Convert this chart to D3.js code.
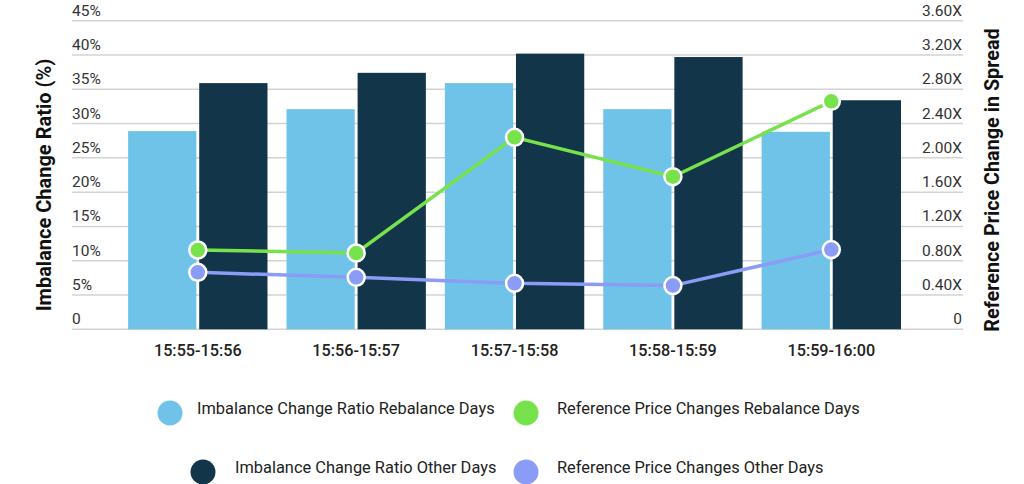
<!DOCTYPE html>
<html>
<head>
<meta charset="utf-8">
<script src="https://d3js.org/d3.v7.min.js"></script>
<style>
  body { margin: 0; background: #fff; }
  svg text { font-family: Roboto, "Noto Sans", sans-serif; }
</style>
</head>
<body>
<div id="chart"></div>
<script>
// data
var periods = ["15:55-15:56", "15:56-15:57", "15:57-15:58", "15:58-15:59", "15:59-16:00"];
var ratioRebalance = [28.9, 32.1, 35.9, 32.1, 28.8];
var ratioOther = [35.9, 37.4, 40.2, 39.7, 33.4];
var priceRebalance = [0.925, 0.89, 2.24, 1.78, 2.66];
var priceOther = [0.665, 0.606, 0.536, 0.51, 0.93];
var leftTicks = [0, 5, 10, 15, 20, 25, 30, 35, 40, 45];
var rightTicks = [0, 0.4, 0.8, 1.2, 1.6, 2.0, 2.4, 2.8, 3.2, 3.6];

var colors = {
  ratioRebalance: "#6fc3e8",
  ratioOther: "#12354a",
  priceRebalance: "#78e24c",
  priceOther: "#8a9cf6"
};

var W = 1024, H = 484;
var svg = d3.select("#chart").append("svg").attr("width", W).attr("height", H);

var y = d3.scaleLinear().domain([0, 45]).range([329.3, 20.7]);
var y2 = d3.scaleLinear().domain([0, 3.6]).range([329.3, 20.7]);
var x = d3.scaleBand().domain(periods).range([118.6, 910.5]).paddingInner(0.12).paddingOuter(0.06);
var xs = d3.scaleBand().domain(["reb", "oth"]).range([0, x.bandwidth()]).paddingInner(0.04);

// gridlines
svg.append("g").selectAll("line").data(leftTicks).enter().append("line")
  .attr("x1", 72).attr("x2", 963)
  .attr("y1", d => y(d)).attr("y2", d => y(d))
  .attr("stroke", "#d3d3d3").attr("stroke-width", 1.5);

// left tick labels
svg.append("g").selectAll("text").data(leftTicks).enter().append("text")
  .attr("x", 72).attr("y", d => y(d) - 5)
  .attr("font-size", 15.5).attr("fill", "#333")
  .text(d => d === 0 ? "0" : d + "%");

// right tick labels
svg.append("g").selectAll("text").data(rightTicks).enter().append("text")
  .attr("x", 962).attr("y", d => y2(d) - 5)
  .attr("text-anchor", "end")
  .attr("font-size", 15.5).attr("fill", "#333")
  .text(d => d === 0 ? "0" : d3.format(".2f")(d) + "X");

// bars
var groups = svg.append("g").selectAll("g").data(periods).enter().append("g")
  .attr("transform", d => "translate(" + x(d) + ",0)");
groups.append("rect")
  .attr("x", xs("reb")).attr("width", xs.bandwidth())
  .attr("y", (d, i) => y(ratioRebalance[i]))
  .attr("height", (d, i) => y(0) - y(ratioRebalance[i]))
  .attr("fill", colors.ratioRebalance);
groups.append("rect")
  .attr("x", xs("oth")).attr("width", xs.bandwidth())
  .attr("y", (d, i) => y(ratioOther[i]))
  .attr("height", (d, i) => y(0) - y(ratioOther[i]))
  .attr("fill", colors.ratioOther);

// lines
function cx(d) { return x(d) + x.bandwidth() / 2; }
function drawLine(vals, col) {
  var line = d3.line().x((d, i) => cx(periods[i])).y(d => y2(d));
  svg.append("path").datum(vals).attr("d", line)
    .attr("fill", "none").attr("stroke", col).attr("stroke-width", 3.5);
  svg.append("g").selectAll("circle").data(vals).enter().append("circle")
    .attr("cx", (d, i) => cx(periods[i])).attr("cy", d => y2(d))
    .attr("r", 8.5).attr("fill", col)
    .attr("stroke", "#fff").attr("stroke-width", 2.5);
}
drawLine(priceOther, colors.priceOther);
drawLine(priceRebalance, colors.priceRebalance);

// x labels
svg.append("g").selectAll("text").data(periods).enter().append("text")
  .attr("x", d => cx(d)).attr("y", 356)
  .attr("text-anchor", "middle")
  .attr("font-size", 16.2).attr("font-weight", 500).attr("fill", "#222")
  .text(d => d);

// axis titles
svg.append("text")
  .attr("transform", "translate(51,185) rotate(-90)")
  .attr("text-anchor", "middle")
  .attr("font-size", 20).attr("font-weight", "bold").attr("fill", "#111")
  .text("Imbalance Change Ratio (%)");
svg.append("text")
  .attr("transform", "translate(999,180) rotate(-90)")
  .attr("text-anchor", "middle")
  .attr("font-size", 19.8).attr("font-weight", "bold").attr("fill", "#111")
  .text("Reference Price Change in Spread");

// legend
var legend = [
  { label: "Imbalance Change Ratio Rebalance Days", col: colors.ratioRebalance, cx: 170, cy: 413, tx: 197, ty: 414 },
  { label: "Reference Price Changes Rebalance Days", col: colors.priceRebalance, cx: 526, cy: 413, tx: 557, ty: 414 },
  { label: "Imbalance Change Ratio Other Days", col: colors.ratioOther, cx: 203, cy: 472, tx: 235, ty: 473 },
  { label: "Reference Price Changes Other Days", col: colors.priceOther, cx: 526, cy: 472, tx: 557, ty: 473 }
];
var lg = svg.append("g").selectAll("g").data(legend).enter().append("g");
lg.append("circle").attr("cx", d => d.cx).attr("cy", d => d.cy).attr("r", 12.5).attr("fill", d => d.col);
lg.append("text").attr("x", d => d.tx).attr("y", d => d.ty)
  .attr("font-size", 16.4).attr("fill", "#222")
  .text(d => d.label);
</script>
</body>
</html>
